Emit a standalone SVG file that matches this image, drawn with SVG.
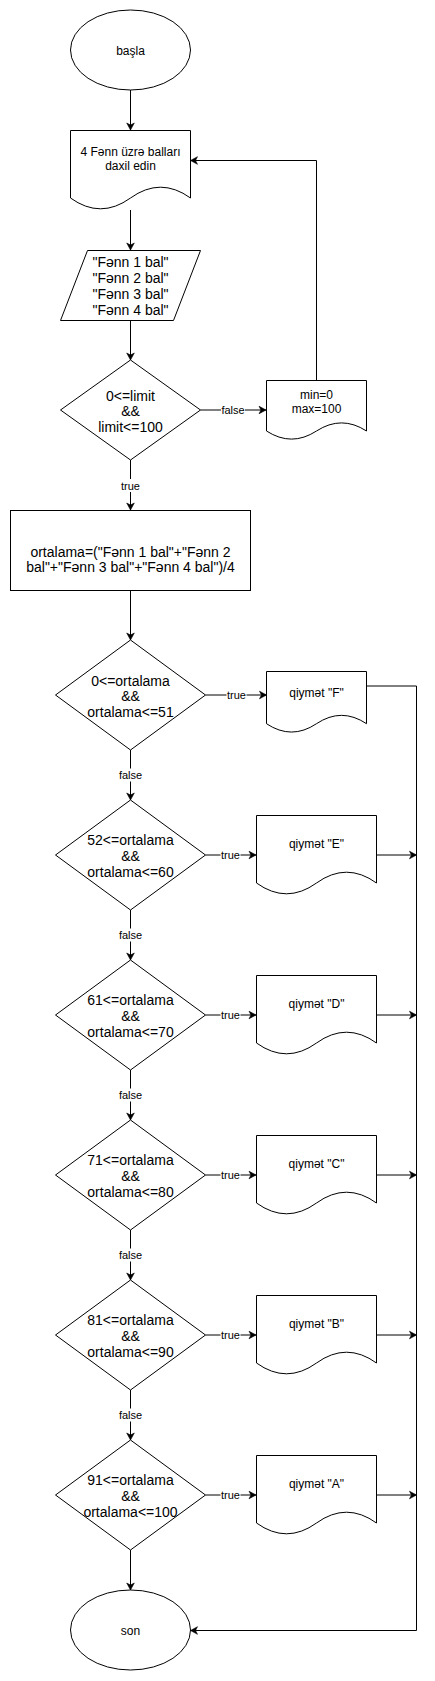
<svg xmlns="http://www.w3.org/2000/svg" width="435" height="1681" viewBox="0 0 435 1681">
<style>
.s{fill:#fff;stroke:#000;stroke-width:1}
.t{font-family:"Liberation Sans",Arial,Helvetica,sans-serif;fill:#000;text-anchor:middle}
.f12{font-size:12px}
.f14{font-size:14px}
.lb{font-family:"Liberation Sans",Arial,Helvetica,sans-serif;font-size:11px;fill:#000;text-anchor:middle}
.c{fill:none;stroke:#000;stroke-width:1}
.a{marker-end:url(#arr)}
.bg{fill:#fff}
</style>
<defs>
<marker id="arr" viewBox="-8 -5 9 10" refX="0" refY="0" markerWidth="9" markerHeight="10" markerUnits="userSpaceOnUse" orient="auto">
<path d="M0,0 L-7,-3.8 L-5,0 L-7,3.8 Z" fill="#000" stroke="#000" stroke-width="0.6"/>
</marker>
</defs>
<rect width="435" height="1681" fill="#fff"/>

<g id="connectors">
<path class="c a" d="M130.5,90 L130.5,130"/>
<path class="c a" d="M130.5,210 L130.5,250"/>
<path class="c a" d="M130.5,320 L130.5,360"/>
<path class="c a" d="M200.5,410 L266,410"/>
<path class="c a" d="M316.5,380 L316.5,160.5 L190.5,160.5"/>
<path class="c a" d="M130.5,460 L130.5,510"/>
<path class="c a" d="M130.5,590 L130.5,640"/>
<path class="c a" d="M205.5,695 L266.5,695"/>
<path class="c a" d="M366.5,686 L416.5,686 L416.5,1630.5 L190.5,1630.5"/>
<path class="c a" d="M130.5,750 L130.5,800"/>
<path class="c a" d="M205.5,855 L256,855"/>
<path class="c a" d="M376,855 L416.5,855"/>
<path class="c a" d="M130.5,910 L130.5,960"/>
<path class="c a" d="M205.5,1015 L256,1015"/>
<path class="c a" d="M376,1015 L416.5,1015"/>
<path class="c a" d="M130.5,1070 L130.5,1120"/>
<path class="c a" d="M205.5,1175 L256,1175"/>
<path class="c a" d="M376,1175 L416.5,1175"/>
<path class="c a" d="M130.5,1230 L130.5,1280"/>
<path class="c a" d="M205.5,1335 L256,1335"/>
<path class="c a" d="M376,1335 L416.5,1335"/>
<path class="c a" d="M130.5,1390 L130.5,1440"/>
<path class="c a" d="M205.5,1495 L256,1495"/>
<path class="c a" d="M376,1495 L416.5,1495"/>
<path class="c a" d="M130.5,1550 L130.5,1590"/>
<g id="labels">
<rect class="bg" x="221" y="403" width="24" height="13"/><text class="lb" x="233" y="414">false</text>
<rect class="bg" x="120.5" y="479" width="20" height="13"/><text class="lb" x="130.5" y="489.5">true</text>
<rect class="bg" x="226.5" y="688.5" width="20" height="13"/><text class="lb" x="236.5" y="699">true</text>
<rect class="bg" x="118.5" y="768.5" width="24" height="13"/><text class="lb" x="130.5" y="779">false</text>
<rect class="bg" x="220.5" y="848.5" width="20" height="13"/><text class="lb" x="230.5" y="859">true</text>
<rect class="bg" x="118.5" y="928.5" width="24" height="13"/><text class="lb" x="130.5" y="939">false</text>
<rect class="bg" x="220.5" y="1008.5" width="20" height="13"/><text class="lb" x="230.5" y="1019">true</text>
<rect class="bg" x="118.5" y="1088.5" width="24" height="13"/><text class="lb" x="130.5" y="1099">false</text>
<rect class="bg" x="220.5" y="1168.5" width="20" height="13"/><text class="lb" x="230.5" y="1179">true</text>
<rect class="bg" x="118.5" y="1248.5" width="24" height="13"/><text class="lb" x="130.5" y="1259">false</text>
<rect class="bg" x="220.5" y="1328.5" width="20" height="13"/><text class="lb" x="230.5" y="1339">true</text>
<rect class="bg" x="118.5" y="1408.5" width="24" height="13"/><text class="lb" x="130.5" y="1419">false</text>
<rect class="bg" x="220.5" y="1488.5" width="20" height="13"/><text class="lb" x="230.5" y="1499">true</text>
</g>
</g>

<g id="start">
<ellipse class="s" cx="130.5" cy="50" rx="60" ry="40"/>
<text class="t f12" x="130.5" y="55">başla</text>
</g>

<g id="input-prompt">
<path class="s" d="M70.5,130.5 L190.5,130.5 L190.5,198 Q160.5,176.4 130.5,198 Q100.5,219.6 70.5,198 Z"/>
<text class="t f12" x="130.5" y="156">4 Fənn üzrə balları</text>
<text class="t f12" x="130.5" y="170">daxil edin</text>
</g>

<g id="input-data">
<path class="s" d="M87.5,250.5 L200.5,250.5 L173.5,320.5 L60.5,320.5 Z"/>
<text class="t f14" x="130.5" y="267">"Fənn 1 bal"</text>
<text class="t f14" x="130.5" y="283">"Fənn 2 bal"</text>
<text class="t f14" x="130.5" y="299">"Fənn 3 bal"</text>
<text class="t f14" x="130.5" y="315">"Fənn 4 bal"</text>
</g>

<g id="check-limit">
<path class="s" d="M130.5,360 L200.5,410 L130.5,460 L60.5,410 Z"/>
<text class="t f14" x="130.5" y="400.5">0&lt;=limit</text>
<text class="t f14" x="130.5" y="416">&amp;&amp;</text>
<text class="t f14" x="130.5" y="432">limit&lt;=100</text>
</g>

<g id="min-max">
<path class="s" d="M266.5,380.5 L366.5,380.5 L366.5,431 Q341.5,414.8 316.5,431 Q291.5,447.2 266.5,431 Z"/>
<text class="t f12" x="316.5" y="399">min=0</text>
<text class="t f12" x="316.5" y="413">max=100</text>
</g>

<g id="average">
<rect class="s" x="10.5" y="510.5" width="240" height="80"/>
<text class="t f14" x="130.5" y="557">ortalama=("Fənn 1 bal"+"Fənn 2</text>
<text class="t f14" x="130.5" y="572">bal"+"Fənn 3 bal"+"Fənn 4 bal")/4</text>
</g>

<g id="cond-f">
<path class="s" d="M130.5,640 L205.5,695 L130.5,750 L55.5,695 Z"/>
<text class="t f14" x="130.5" y="685.5">0&lt;=ortalama</text>
<text class="t f14" x="130.5" y="701">&amp;&amp;</text>
<text class="t f14" x="130.5" y="717">ortalama&lt;=51</text>
</g>
<g id="grade-f">
<path class="s" d="M266.5,671.5 L366.5,671.5 L366.5,723.7 Q341.5,707 316.5,723.7 Q291.5,740.4 266.5,723.7 Z"/>
<text class="t f12" x="316.5" y="697">qiymət "F"</text>
</g>

<g id="cond-e">
<path class="s" d="M130.5,800 L205.5,855 L130.5,910 L55.5,855 Z"/>
<text class="t f14" x="130.5" y="845">52&lt;=ortalama</text>
<text class="t f14" x="130.5" y="861">&amp;&amp;</text>
<text class="t f14" x="130.5" y="877">ortalama&lt;=60</text>
</g>
<g id="grade-e">
<path class="s" d="M256.5,815.5 L376.5,815.5 L376.5,883 Q346.5,861.4 316.5,883 Q286.5,904.6 256.5,883 Z"/>
<text class="t f12" x="316.5" y="847.5">qiymət "E"</text>
</g>

<g id="cond-d">
<path class="s" d="M130.5,960 L205.5,1015 L130.5,1070 L55.5,1015 Z"/>
<text class="t f14" x="130.5" y="1005">61&lt;=ortalama</text>
<text class="t f14" x="130.5" y="1021">&amp;&amp;</text>
<text class="t f14" x="130.5" y="1037">ortalama&lt;=70</text>
</g>
<g id="grade-d">
<path class="s" d="M256.5,975.5 L376.5,975.5 L376.5,1043 Q346.5,1021.4 316.5,1043 Q286.5,1064.6 256.5,1043 Z"/>
<text class="t f12" x="316.5" y="1007.5">qiymət "D"</text>
</g>

<g id="cond-c">
<path class="s" d="M130.5,1120 L205.5,1175 L130.5,1230 L55.5,1175 Z"/>
<text class="t f14" x="130.5" y="1165">71&lt;=ortalama</text>
<text class="t f14" x="130.5" y="1181">&amp;&amp;</text>
<text class="t f14" x="130.5" y="1197">ortalama&lt;=80</text>
</g>
<g id="grade-c">
<path class="s" d="M256.5,1135.5 L376.5,1135.5 L376.5,1203 Q346.5,1181.4 316.5,1203 Q286.5,1224.6 256.5,1203 Z"/>
<text class="t f12" x="316.5" y="1167.5">qiymət "C"</text>
</g>

<g id="cond-b">
<path class="s" d="M130.5,1280 L205.5,1335 L130.5,1390 L55.5,1335 Z"/>
<text class="t f14" x="130.5" y="1325">81&lt;=ortalama</text>
<text class="t f14" x="130.5" y="1341">&amp;&amp;</text>
<text class="t f14" x="130.5" y="1357">ortalama&lt;=90</text>
</g>
<g id="grade-b">
<path class="s" d="M256.5,1295.5 L376.5,1295.5 L376.5,1363 Q346.5,1341.4 316.5,1363 Q286.5,1384.6 256.5,1363 Z"/>
<text class="t f12" x="316.5" y="1327.5">qiymət "B"</text>
</g>

<g id="cond-a">
<path class="s" d="M130.5,1440 L205.5,1495 L130.5,1550 L55.5,1495 Z"/>
<text class="t f14" x="130.5" y="1485">91&lt;=ortalama</text>
<text class="t f14" x="130.5" y="1501">&amp;&amp;</text>
<text class="t f14" x="130.5" y="1517">ortalama&lt;=100</text>
</g>
<g id="grade-a">
<path class="s" d="M256.5,1455.5 L376.5,1455.5 L376.5,1523 Q346.5,1501.4 316.5,1523 Q286.5,1544.6 256.5,1523 Z"/>
<text class="t f12" x="316.5" y="1487.5">qiymət "A"</text>
</g>

<g id="end">
<ellipse class="s" cx="130.5" cy="1630" rx="60" ry="40"/>
<text class="t f12" x="130.5" y="1635">son</text>
</g>
</svg>
